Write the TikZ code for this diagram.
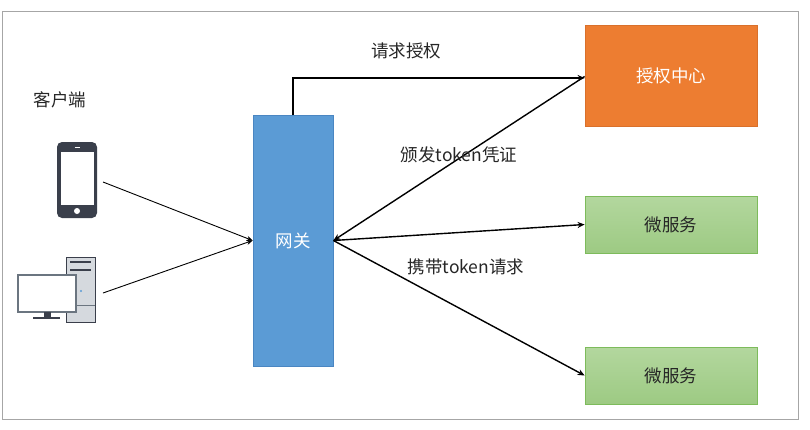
\documentclass[tikz,border=0pt]{standalone}
\usepackage{fontspec}
\setmainfont{Noto Sans CJK SC}
\usetikzlibrary{arrows.meta}
\definecolor{framegray}{HTML}{A6A6A6}
\definecolor{gwblue}{HTML}{5B9BD5}
\definecolor{gwborder}{HTML}{4A86C2}
\definecolor{authorange}{HTML}{ED7D31}
\definecolor{authborder}{HTML}{D9702B}
\definecolor{msgreentop}{HTML}{B3D79E}
\definecolor{msgreenbot}{HTML}{9DCA83}
\definecolor{msborder}{HTML}{7DBB5B}
\definecolor{devdark}{HTML}{3A3F4B}
\definecolor{towergray}{HTML}{D5D9DE}
\definecolor{monborder}{HTML}{6B7580}
\definecolor{labeltext}{HTML}{262626}
\begin{document}
\begin{tikzpicture}[x=1pt,y=-1pt,
  box/.style={rectangle, inner sep=0pt, line width=0.8pt, font=\fontsize{17.5}{20}\selectfont},
  gwbox/.style={box, fill=gwblue, draw=gwborder, text=white},
  authbox/.style={box, fill=authorange, draw=authborder, text=white},
  msbox/.style={box, top color=msgreentop, bottom color=msgreenbot, draw=msborder, text=labeltext},
  lbl/.style={font=\fontsize{17.5}{20}\selectfont, text=labeltext, inner sep=0pt},
  arr/.style={line width=1.4pt, -{Stealth[length=7pt,width=6pt]}},
  thin arr/.style={line width=0.9pt, -{Stealth[length=6pt,width=5pt]}}
]
\useasboundingbox (0,0) rectangle (810,429);
\draw[framegray, line width=1pt] (2.5,11.5) rectangle (798.5,419);

% main boxes
\node[gwbox, minimum width=80pt, minimum height=251pt] (gw) at (293,240.5) {网关};
\node[authbox, minimum width=172pt, minimum height=101pt] (auth) at (671,75.5) {授权中心};
\node[msbox, minimum width=172pt, minimum height=57pt] (ms1) at (671,224.5) {微服务};
\node[msbox, minimum width=172pt, minimum height=57pt] (ms2) at (671,375.5) {微服务};

% client label
\node[lbl] (client) at (60,100) {客户端};

% phone icon
\node[rectangle, rounded corners=5pt, fill=devdark, minimum width=40pt, minimum height=76pt, inner sep=0pt] (phone) at (77,180) {};
\fill[white] (60.5,152) rectangle (93.5,205);
\fill[white] (77,211) circle (3pt);
\draw[white, line width=1pt] (74.5,147) -- (79.5,147);

% computer icon
\node[rectangle, fill=towergray, draw=devdark, line width=1pt, minimum width=29pt, minimum height=65pt, inner sep=0pt] (tower) at (80.5,289.5) {};
\draw[devdark, line width=1.2pt] (70,262) -- (91,262);
\draw[devdark, line width=1.5pt] (70,270) -- (91,270);
\draw[monborder, line width=0.6pt] (66,305) -- (95,305);
\fill[gwblue] (81,291) circle (1.2pt);
\node[rectangle, fill=white, draw=monborder, line width=1.2pt, minimum width=58pt, minimum height=37pt, inner sep=0pt] (monitor) at (47,293.5) {};
\fill[devdark] (43.5,312) rectangle (50.5,318);
\draw[devdark, line width=1.5pt] (33,318) -- (60,318);

% connector endpoints at the devices
\coordinate (p1) at (103,182);
\coordinate (c1) at (103,293);

% connectors
\draw[thin arr] (p1) -- (gw.west);
\draw[thin arr] (c1) -- (gw.west);
\draw[arr] (gw.north) |- ([yshift=-2.5pt]auth.west);
\draw[arr] ([yshift=-1pt]auth.west) -- (gw.east);
\draw[arr] (gw.east) -- (ms1.west);
\draw[arr] (gw.east) -- (ms2.west);

% labels
\node[lbl] (l1) at (406,51) {请求授权};
\node[lbl] (l2) at (459,155) {颁发token凭证};
\node[lbl] (l3) at (466,267) {携带token请求};
\end{tikzpicture}
\end{document}
